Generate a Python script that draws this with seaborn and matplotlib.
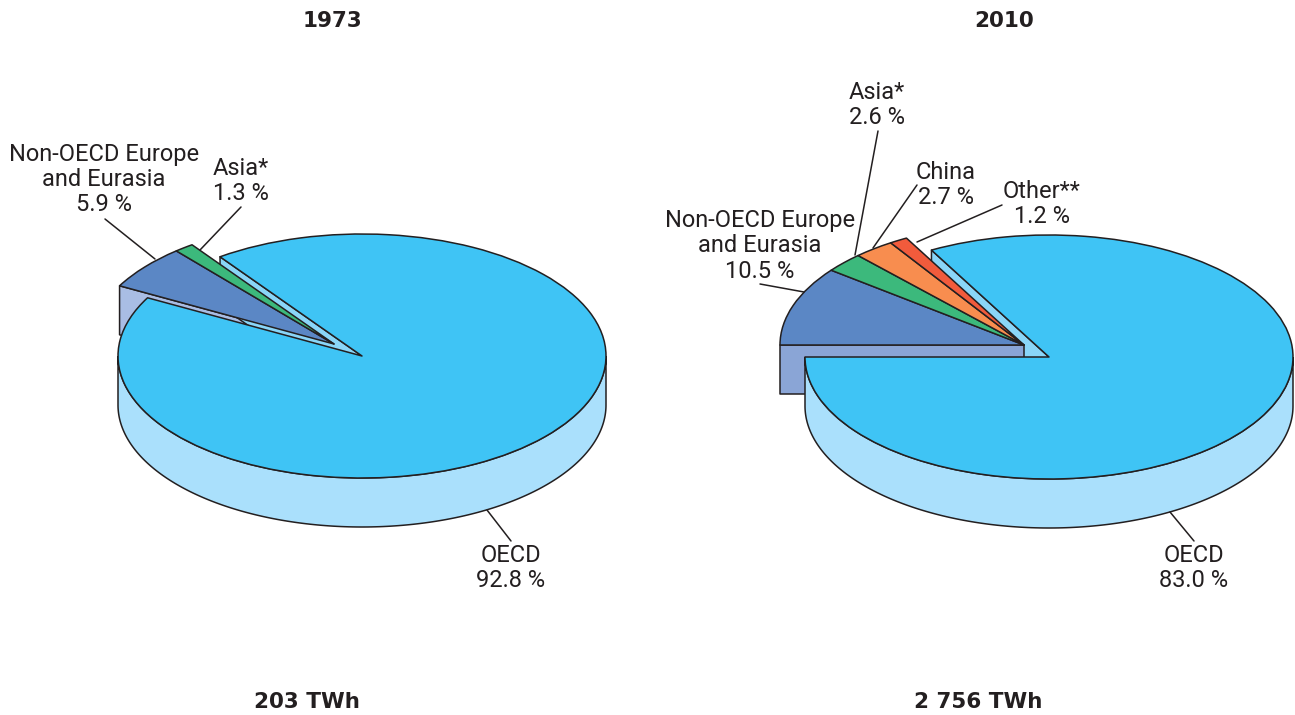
import numpy as np
import seaborn as sns
import matplotlib.pyplot as plt
from matplotlib.transforms import Affine2D

# shares in % per region, in the order they are drawn round the pie
labels_1973 = ["OECD", "Non-OECD Europe", "Asia*"]
values_1973 = [92.8, 5.9, 1.3]
labels_2010 = ["OECD", "Non-OECD Europe", "Asia*", "China", "Other**"]
values_2010 = [83.0, 10.5, 2.6, 2.7, 1.2]
years = ["1973", "2010"]
totals = ["203 TWh", "2 756 TWh"]

colors = {
    "OECD": "#3fc4f5",
    "Non-OECD Europe": "#5b87c5",
    "Asia*": "#3cb97c",
    "China": "#f88d4f",
    "Other**": "#f15b3c",
}
LINE = "#231f20"
WIDTH, HEIGHT = 1295, 715
RX = 244
SQUASH = 0.5
DEPTH = 49


def py(y):
    # picture rows run downwards, the axes run upwards
    return HEIGHT - y


def rim(cx, cy, angle, drop=0):
    a = np.radians(angle)
    return cx + RX * np.cos(a), cy + RX * SQUASH * np.sin(a) - drop


def squash(wedge, ax, cx, cy, z):
    wedge.set_transform(Affine2D().translate(-cx, -cy).scale(1, SQUASH).translate(cx, cy) + ax.transData)
    wedge.set_zorder(z)
    wedge.set_edgecolor(LINE)
    wedge.set_linewidth(1.1)
    wedge.set_joinstyle("round")


def cut_face(ax, cx, cy, angle, color, z):
    x, y = rim(cx, cy, angle)
    ax.fill([cx, x, x, cx], [cy, y, y - DEPTH, cy - DEPTH], facecolor=color,
            edgecolor=LINE, linewidth=1.1, zorder=z, joinstyle="round")


def draw_pie(ax, names, values, cx, cy, start, offset, cut_color, oecd_cut_z, piece_cut_z):
    fractions = np.array(values) / 100
    # oecd goes round counterclockwise from the start angle
    end = start + 360 * fractions[0]
    wedges, _ = ax.pie(fractions[:1], startangle=start, normalize=False, radius=RX,
                       center=(cx, cy), colors=[colors[names[0]]], frame=True)
    squash(wedges[0], ax, cx, cy, 6)

    arc = np.linspace(180, 360, 200)
    tx, ty = rim(cx, cy, arc)
    bx, by = rim(cx, cy, arc, DEPTH)
    ax.fill(np.r_[tx, bx[::-1]], np.r_[ty, by[::-1]], facecolor="#aae0fc",
            edgecolor=LINE, linewidth=1.1, zorder=5)
    cut_face(ax, cx, cy, end, "#8ad6f8", oecd_cut_z)

    # the other regions are pulled out of the pie, clockwise from the same angle
    ox, oy = cx + offset[0], cy + offset[1]
    cut_face(ax, ox, oy, start, cut_color, piece_cut_z)
    wedges, _ = ax.pie(fractions[1:], startangle=start, counterclock=False, normalize=False,
                       radius=RX, center=(ox, oy), colors=[colors[n] for n in names[1:]], frame=True)
    for w in wedges:
        squash(w, ax, ox, oy, 4)


def leader(ax, x0, y0, x1, y1):
    ax.plot([x0, x1], [py(y0), py(y1)], color=LINE, linewidth=1.1, zorder=7)


def label(ax, x, y, text):
    ax.text(x, py(y), text, ha="center", va="center", fontsize=17, color=LINE,
            family=["Roboto", "DejaVu Sans"], linespacing=1.12, zorder=8)


def heading(ax, x, y, text):
    ax.text(x, py(y), text, ha="center", va="center", fontsize=15.5, fontweight="bold",
            family=["DejaVu Sans"], color=LINE)


def main():
    sns.set_theme(style="white")
    fig = plt.figure(figsize=(WIDTH / 100, HEIGHT / 100), dpi=100)
    ax = fig.add_axes([0, 0, 1, 1])

    draw_pie(ax, labels_1973, values_1973, 362, py(356), 151.5, (-28, 12), "#a9bde4", 3, 2)
    draw_pie(ax, labels_2010, values_2010, 1049, py(357), 180, (-25, 12), "#8aa5d6", 2, 3)

    ax.set_xlim(0, WIDTH)
    ax.set_ylim(0, HEIGHT)
    ax.set_aspect("auto")
    ax.axis("off")

    for x, year in zip([332, 1004], years):
        heading(ax, x, 21, year)
    for x, total in zip([307, 978], totals):
        heading(ax, x, 702, total)

    label(ax, 104, 179.5, "Non-OECD Europe\nand Eurasia\n%.1f %%" % values_1973[1])
    label(ax, 241, 181, "Asia*\n%.1f %%" % values_1973[2])
    label(ax, 511, 568, "OECD\n%.1f %%" % values_1973[0])
    label(ax, 877, 105, "Asia*\n%.1f %%" % values_2010[2])
    label(ax, 946, 185, "China\n%.1f %%" % values_2010[3])
    label(ax, 1042, 204, "Other**\n%.1f %%" % values_2010[4])
    label(ax, 760, 246, "Non-OECD Europe\nand Eurasia\n%.1f %%" % values_2010[1])
    label(ax, 1194, 568, "OECD\n%.1f %%" % values_2010[0])

    leader(ax, 105, 219, 155, 259)
    leader(ax, 241, 207, 200, 250)
    leader(ax, 511, 541, 487, 510)
    leader(ax, 878, 131, 855, 255)
    leader(ax, 917, 185, 873, 248)
    leader(ax, 1002, 205, 917, 242)
    leader(ax, 760, 284, 804, 292)
    leader(ax, 1194, 541, 1170, 512)

    fig.savefig("out.png", dpi=100, facecolor="white")


if __name__ == "__main__":
    main()
